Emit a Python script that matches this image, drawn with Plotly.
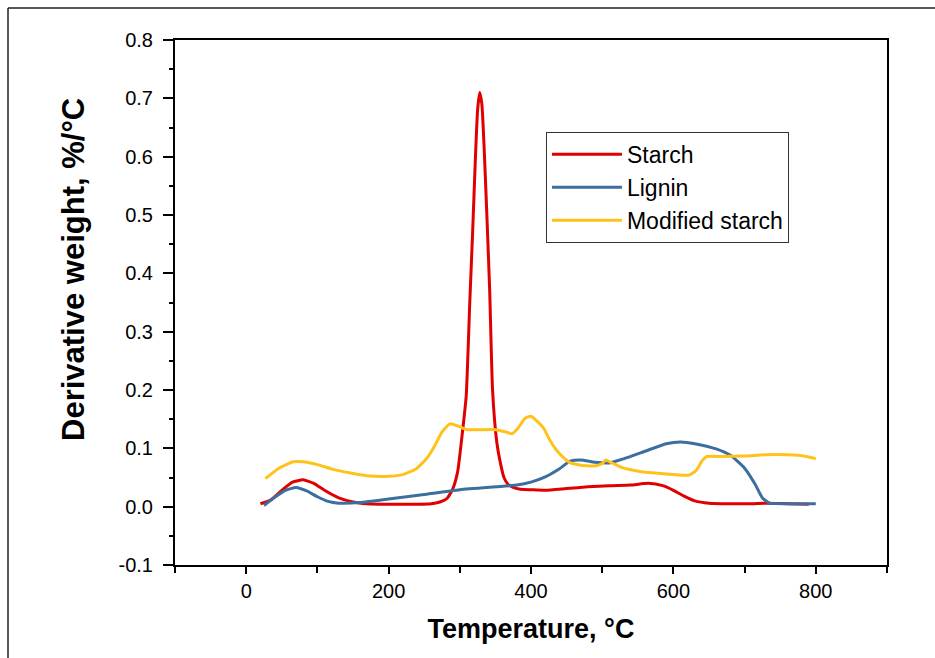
import plotly.graph_objects as go

# ---- data ----
starch_x = [20, 35, 50, 65, 80, 95, 110, 130, 150, 170, 200, 230, 260, 272, 282, 290, 297, 303, 309, 314,
            318, 322, 325, 328, 331, 334, 338, 342, 346, 352, 357, 362, 368, 375, 385, 400, 420, 450, 480,
            510, 540, 565, 585, 600, 615, 630, 650, 680, 710, 730, 760, 790]
starch_y = [0.005, 0.012, 0.028, 0.042, 0.046, 0.040, 0.028, 0.015, 0.008, 0.005, 0.004, 0.004, 0.005,
            0.008, 0.014, 0.030, 0.060, 0.120, 0.190, 0.350, 0.470, 0.600, 0.680, 0.710, 0.690, 0.620,
            0.500, 0.370, 0.200, 0.110, 0.075, 0.050, 0.038, 0.033, 0.030, 0.029, 0.028, 0.031, 0.034,
            0.036, 0.037, 0.040, 0.036, 0.028, 0.018, 0.010, 0.006, 0.005, 0.005, 0.006, 0.005, 0.004]

lignin_x = [25, 40, 55, 70, 85, 100, 115, 130, 160, 200, 250, 300, 350, 380, 400, 420, 440, 455, 470,
            490, 510, 530, 560, 590, 610, 630, 660, 680, 700, 715, 725, 735, 760, 800]
lignin_y = [0.002, 0.016, 0.028, 0.033, 0.027, 0.017, 0.009, 0.006, 0.007, 0.013, 0.021, 0.029, 0.034,
            0.037, 0.042, 0.051, 0.065, 0.078, 0.080, 0.076, 0.075, 0.082, 0.095, 0.108, 0.111, 0.108,
            0.099, 0.088, 0.066, 0.038, 0.015, 0.006, 0.005, 0.005]

mod_x = [27, 45, 66, 80, 100, 122, 145, 169, 200, 220, 239, 255, 265, 275, 286, 298, 310, 330, 350, 365,
         373, 382, 392, 400, 410, 418, 426, 435, 445, 454, 466, 478, 491, 500, 505, 512, 519, 528, 537,
         555, 570, 600, 622, 632, 640, 647, 665, 700, 729, 760, 776, 790, 800]
mod_y = [0.048, 0.065, 0.077, 0.077, 0.072, 0.064, 0.058, 0.053, 0.052, 0.055, 0.065, 0.085, 0.105,
         0.128, 0.142, 0.138, 0.132, 0.132, 0.132, 0.128, 0.125, 0.135, 0.152, 0.155, 0.145, 0.134,
         0.115, 0.098, 0.085, 0.076, 0.072, 0.070, 0.070, 0.074, 0.080, 0.076, 0.072, 0.067, 0.064,
         0.060, 0.058, 0.055, 0.054, 0.062, 0.078, 0.086, 0.086, 0.087, 0.089, 0.089, 0.088, 0.085, 0.082]

y_ticks = [-0.1, 0.0, 0.1, 0.2, 0.3, 0.4, 0.5, 0.6, 0.7, 0.8]
y_labels = ["-0.1", "0.0", "0.1", "0.2", "0.3", "0.4", "0.5", "0.6", "0.7", "0.8"]
x_ticks = [0, 200, 400, 600, 800]
x_labels = ["0", "200", "400", "600", "800"]
x_title = "Temperature, °C"
y_title = "Derivative weight, %/°C"

FONT = "Liberation Sans, Arial, sans-serif"

fig = go.Figure()
series = [
    ("Starch", starch_x, starch_y, "#E00000"),
    ("Lignin", lignin_x, lignin_y, "#3C6E9E"),
    ("Modified starch", mod_x, mod_y, "#FFC21A"),
]
for name, xs, ys, col in series:
    fig.add_trace(go.Scatter(x=xs, y=ys, mode="lines", name=name, legendgroup=name,
                             line=dict(color=col, width=3, shape="spline", smoothing=0.5)))

fig.update_layout(
    width=935, height=658,
    margin=dict(l=175, r=48, t=40, b=93),
    paper_bgcolor="white", plot_bgcolor="white",
    font=dict(family=FONT, size=20, color="black"),
    showlegend=True,
    legend=dict(x=0.521, y=0.825, xanchor="left", yanchor="top",
                bordercolor="#333333", borderwidth=1, bgcolor="white",
                font=dict(family=FONT, size=23, color="black"),
                tracegroupgap=0, itemwidth=70),
    xaxis=dict(range=[-100, 900], tickvals=x_ticks, ticktext=x_labels,
               ticks="outside", ticklen=7, tickwidth=2, tickcolor="black",
               minor=dict(dtick=100, tick0=0, ticks="outside", ticklen=6, tickwidth=2, tickcolor="black"),
               showline=True, linecolor="black", linewidth=2, mirror=True,
               showgrid=False, zeroline=False,
               tickfont=dict(family=FONT, size=20),
               title=dict(text="<b>" + x_title + "</b>", font=dict(family=FONT, size=27), standoff=18)),
    yaxis=dict(range=[-0.1, 0.8], tickvals=y_ticks, ticktext=y_labels,
               ticks="outside", ticklen=10, tickwidth=2, tickcolor="black",
               minor=dict(dtick=0.05, tick0=0, ticks="outside", ticklen=4, tickwidth=2, tickcolor="black"),
               showline=True, linecolor="black", linewidth=2, mirror=True,
               showgrid=False, zeroline=False, ticklabelstandoff=6,
               tickfont=dict(family=FONT, size=20)),
    annotations=[
        dict(text="<b>" + y_title + "</b>", xref="paper", yref="paper",
             x=(73 - 175) / 712, y=1 - (270 - 40) / 525, xanchor="center", yanchor="middle",
             textangle=-90, showarrow=False, font=dict(family=FONT, size=31, color="black")),
    ],
    shapes=[
        dict(type="line", xref="paper", yref="paper", x0=(8 - 175) / 712, x1=(8 - 175) / 712,
             y0=1 + (40 - 8) / 525, y1=-0.2, line=dict(color="#222222", width=1.5)),
        dict(type="line", xref="paper", yref="paper", x0=(8 - 175) / 712, x1=1.08,
             y0=1 + (40 - 8) / 525, y1=1 + (40 - 8) / 525, line=dict(color="#222222", width=1.5)),
    ],
)

fig.write_html("out.html")
